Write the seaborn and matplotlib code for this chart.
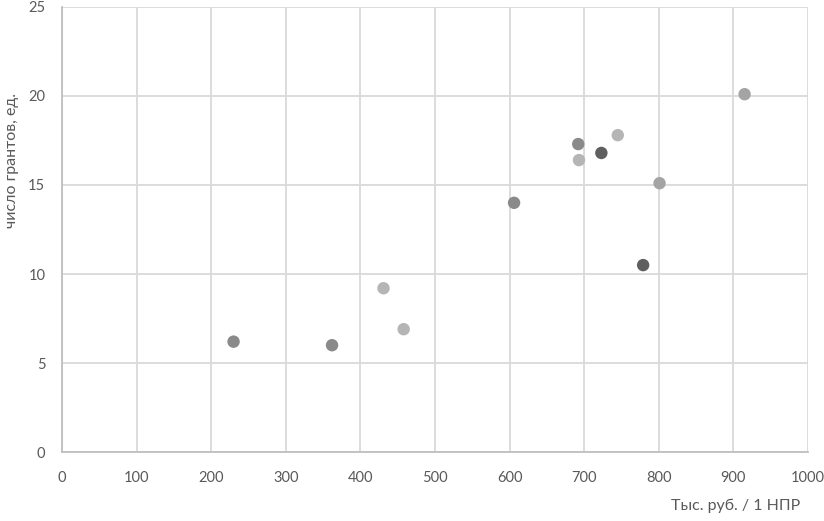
import matplotlib
matplotlib.use("Agg")
import matplotlib.pyplot as plt
import seaborn as sns
import pandas as pd

# Данные
x_vals = [915, 801, 745, 692, 723, 693, 606, 779, 431, 458, 230, 362]
y_vals = [20.1, 15.1, 17.8, 17.3, 16.8, 16.4, 14.0, 10.5, 9.2, 6.9, 6.2, 6.0]
groups = ["B", "B", "D", "C", "A", "D", "C", "A", "D", "D", "C", "C"]

x_ticks = [0, 100, 200, 300, 400, 500, 600, 700, 800, 900, 1000]
y_ticks = [0, 5, 10, 15, 20, 25]

x_title = "Тыс. руб. / 1 НПР"
y_title = "число грантов, ед."

palette = {"A": "#5f5f5f", "B": "#a4a4a4", "C": "#8a8a8a", "D": "#b5b5b5"}

df = pd.DataFrame({"x": x_vals, "y": y_vals, "g": groups})

sns.set_theme(style="white")
plt.rcParams["font.family"] = ["Lato", "DejaVu Sans"]

fig = plt.figure(figsize=(8.24, 5.21), dpi=100)
ax = fig.add_axes([0.0752, 0.1324, 0.9054, 0.8542])

sns.scatterplot(data=df, x="x", y="y", hue="g", palette=palette, s=80,
                edgecolor="none", legend=False, ax=ax, zorder=3)

ax.set_xlim(0, 1000)
ax.set_ylim(0, 25)
ax.set_xticks(x_ticks)
ax.set_yticks(y_ticks)
ax.grid(True, color="#d9d9d9", linewidth=1.3, zorder=0)
ax.set_axisbelow(True)

for side in ["top", "right"]:
    ax.spines[side].set_visible(False)
for side in ["left", "bottom"]:
    ax.spines[side].set_color("#bfbfbf")
    ax.spines[side].set_linewidth(1.3)

ax.tick_params(axis="x", colors="#595959", labelsize=10.5, pad=14, length=0)
ax.tick_params(axis="y", colors="#595959", labelsize=10.5, pad=12, length=0)

ax.set_xlabel(x_title, fontsize=11.5, color="#595959", ha="right")
ax.xaxis.set_label_coords(0.99, -0.105)
ax.set_ylabel(y_title, fontsize=11.5, color="#595959")
ax.yaxis.set_label_coords(-0.057, 0.655)

fig.savefig("out.png", dpi=100)
